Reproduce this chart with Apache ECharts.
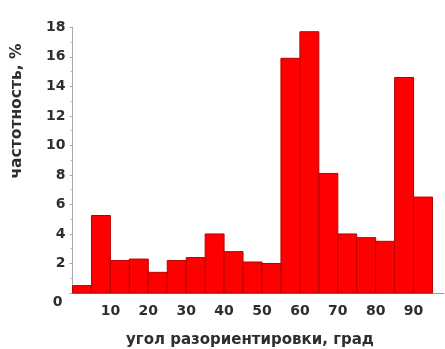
<!DOCTYPE html>
<html>
<head>
<meta charset="utf-8">
<script src="https://cdn.jsdelivr.net/npm/echarts@6/dist/echarts.min.js"></script>
<style>
  html, body { margin: 0; padding: 0; background: #fff; }
  #chart { width: 445px; height: 349px; }
</style>
</head>
<body>
<div id="chart"></div>
<script>
// Misorientation-angle histogram: 5-degree bins
const binStart = [0, 5, 10, 15, 20, 25, 30, 35, 40, 45, 50, 55, 60, 65, 70, 75, 80, 85, 90];
const binWidth = 5;
const frequency = [0.5, 5.25, 2.2, 2.3, 1.4, 2.2, 2.4, 4.0, 2.8, 2.1, 2.0, 15.9, 17.7, 8.1, 4.0, 3.75, 3.5, 14.6, 6.5];
const xTicks = [10, 20, 30, 40, 50, 60, 70, 80, 90];
const yTicks = [0, 2, 4, 6, 8, 10, 12, 14, 16, 18];

const xTitle = 'угол разориентировки, град';
const yTitle = 'частотность, %';

const FONT = '"DejaVu Sans", Verdana, sans-serif';
const TEXT = '#2e2e2e';

const chart = echarts.init(document.getElementById('chart'), null, { renderer: 'canvas' });

const bins = binStart.map((s, i) => [s, s + binWidth, frequency[i]]);

chart.setOption({
  animation: false,
  backgroundColor: '#fff',
  grid: { left: 72.5, top: 27.3, width: 371.4, bottom: 56, containLabel: false },
  xAxis: {
    type: 'value',
    min: 0,
    max: 98,
    interval: 10,
    axisLine: { show: true, lineStyle: { color: '#9a9a9a', width: 1 } },
    axisTick: { show: false },
    splitLine: { show: false },
    axisLabel: {
      showMaxLabel: false,
      margin: 11,
      fontFamily: FONT,
      fontWeight: 'bold',
      fontSize: 14,
      color: TEXT,
      formatter: v => (xTicks.indexOf(v) >= 0 ? String(v) : '')
    }
  },
  yAxis: {
    type: 'value',
    min: 0,
    max: 18,
    interval: 2,
    axisLine: { show: true, lineStyle: { color: '#a8a8a8', width: 1 } },
    axisTick: { show: true, inside: false, length: 3, lineStyle: { color: '#a8a8a8' } },
    minorTick: { show: true, splitNumber: 2, length: 2, lineStyle: { color: '#b8b8b8' } },
    splitLine: { show: false },
    axisLabel: {
      margin: 7,
      fontFamily: FONT,
      fontWeight: 'bold',
      fontSize: 14,
      color: TEXT,
      formatter: v => (yTicks.indexOf(v) < 0 ? '' : (v === 0 ? '{zero|0}' : String(v))),
      rich: {
        zero: { fontFamily: FONT, fontWeight: 'bold', fontSize: 14, color: TEXT, padding: [18, 3, 0, 0] }
      }
    }
  },
  series: [{
    type: 'custom',
    data: bins,
    encode: { x: [0, 1], y: 2 },
    renderItem: function (params, api) {
      const p0 = api.coord([api.value(0), 0]);
      const p1 = api.coord([api.value(1), api.value(2)]);
      return {
        type: 'rect',
        shape: { x: p0[0], y: p1[1], width: p1[0] - p0[0], height: p0[1] - p1[1] },
        style: { fill: '#ff0000', stroke: '#b80000', lineWidth: 1 }
      };
    }
  }],
  graphic: [
    {
      type: 'text',
      x: 250, y: 340,
      style: {
        text: xTitle,
        font: 'bold 15px ' + FONT,
        fill: TEXT,
        align: 'center',
        verticalAlign: 'middle'
      }
    },
    {
      type: 'text',
      x: 17, y: 111,
      rotation: Math.PI / 2,
      style: {
        text: yTitle,
        font: 'bold 15.5px ' + FONT,
        fill: TEXT,
        align: 'center',
        verticalAlign: 'middle'
      }
    }
  ]
});
</script>
</body>
</html>
